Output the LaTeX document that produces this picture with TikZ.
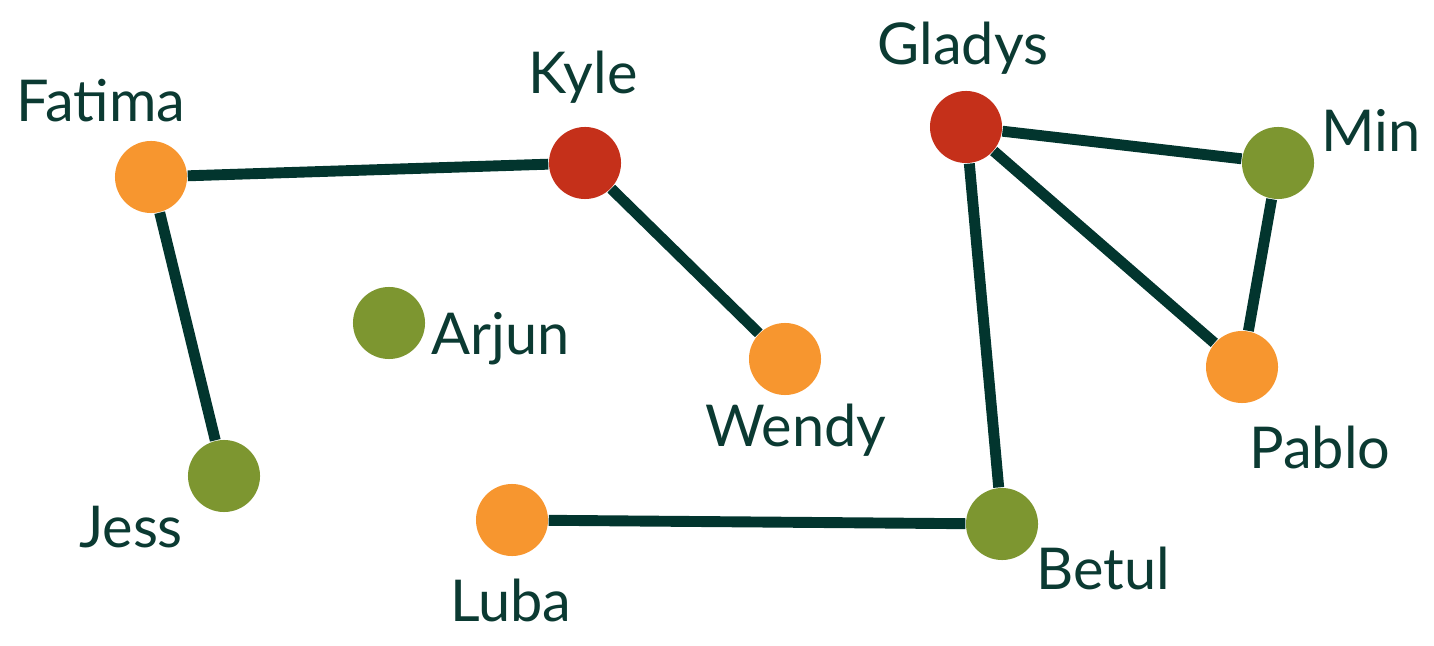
\documentclass[tikz,border=0pt]{standalone}
\usepackage{fontspec}
\setmainfont{Lato}
\usetikzlibrary{positioning}

\begin{document}
\begin{tikzpicture}[x=0.01cm,y=-0.01cm,
  font=\fontsize{16.4}{19}\selectfont]
\definecolor{corange}{HTML}{F7962F}
\definecolor{cred}{HTML}{C5301A}\definecolor{cgreen}{HTML}{7D9630}
\definecolor{cline}{HTML}{02352E}\definecolor{ctext}{HTML}{0B3A32}
\tikzset{person/.style={circle,minimum size=0.72cm,inner sep=0pt},
  who/.style={text=ctext,inner sep=0pt},
  link/.style={draw=cline,line width=3.1pt}}
\useasboundingbox (0,0) rectangle (1434,646);
% ---- people ----
\node[person,fill=corange] (fatima) at (151,177) {};
\node[person,fill=cred]    (kyle)   at (585,163) {};
\node[person,fill=cred]    (gladys) at (966,127) {};
\node[person,fill=cgreen]  (min)    at (1278,163) {};
\node[person,fill=corange] (pablo)  at (1242,367) {};
\node[person,fill=cgreen]  (betul)  at (1002,524) {};
\node[person,fill=corange] (luba)   at (512,520) {};
\node[person,fill=corange] (wendy)  at (785,359) {};
\node[person,fill=cgreen]  (arjun)  at (389,323) {};
\node[person,fill=cgreen]  (jess)   at (224,476) {};
% ---- friendships ----
\draw[link] (fatima) -- (kyle);
\draw[link] (fatima) -- (jess);
\draw[link] (kyle) -- (wendy);
\draw[link] (gladys) -- (min);
\draw[link] (gladys) -- (pablo);
\draw[link] (gladys) -- (betul);
\draw[link] (min) -- (pablo);
\draw[link] (luba) -- (betul);
% ---- names ----
\node[who] (tfatima) at (101,101) {Fatima};
\node[who] (tkyle)   at (583,77)  {Kyle};
\node[who] (tgladys) at (963,48)  {Gladys};
\node[who] (tmin)    at (1371,130) {Min};
\node[who] (tpablo)  at (1320,447) {Pablo};
\node[who] (tbetul)  at (1103,568) {Betul};
\node[who] (tluba)   at (511,600) {Luba};
\node[who] (twendy)  at (796,430) {Wendy};
\node[who] (tarjun)  at (501,339) {Arjun};
\node[who] (tjess)   at (131,527) {Jess};
\end{tikzpicture}
\end{document}
